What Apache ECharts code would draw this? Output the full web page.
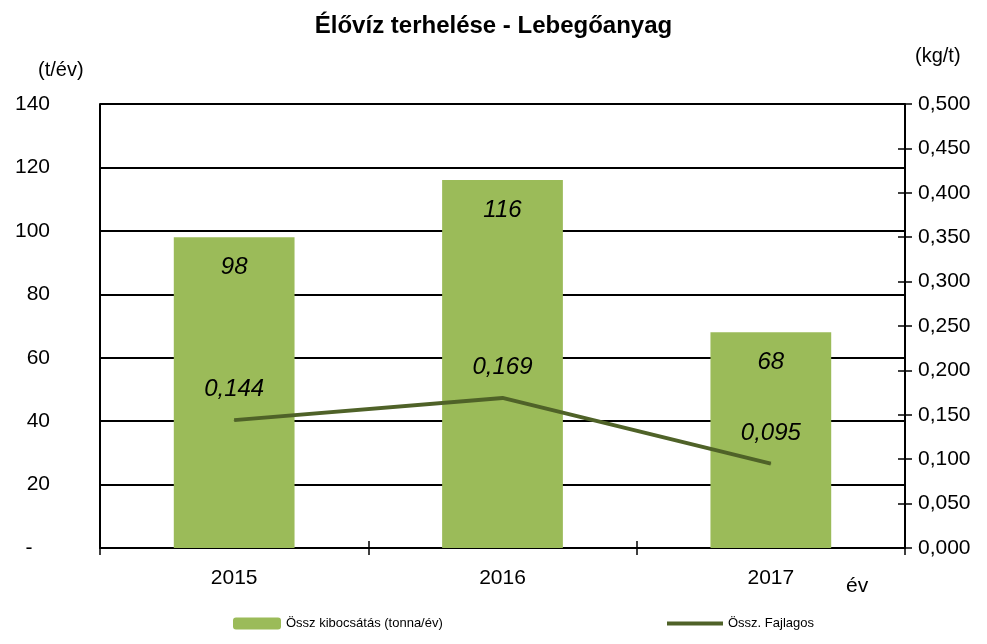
<!DOCTYPE html>
<html>
<head>
<meta charset="utf-8">
<script src="https://cdn.jsdelivr.net/npm/echarts@6/dist/echarts.min.js"></script>
<style>
  html, body {margin: 0; padding: 0; background: #fff;}
  #main {width: 987px; height: 644px;}
</style>
</head>
<body>
<div id="main"></div>
<script>
let years = ['2015', '2016', '2017'];
let kibocsatas = [98, 116, 68];          // t/év
let fajlagos = [0.144, 0.169, 0.095];    // kg/t

let font = '"Liberation Sans", Arial, sans-serif';
let fmt3 = v => v.toFixed(3).replace('.', ',');

let chart = echarts.init(document.getElementById('main'));

chart.setOption({
    animation: false,
    textStyle: {fontFamily: font, color: '#000'},
    title: {
        text: 'Élővíz terhelése - Lebegőanyag',
        left: 'center',
        top: 9,
        textStyle: {fontSize: 24, fontWeight: 'bold', color: '#000', fontFamily: font}
    },
    graphic: [
        {type: 'text', left: 38, top: 60, style: {text: '(t/év)', fontSize: 20, fontFamily: font, fill: '#000'}},
        {type: 'text', left: 915, top: 46, style: {text: '(kg/t)', fontSize: 20, fontFamily: font, fill: '#000'}},
        {type: 'text', left: 846, top: 576, style: {text: 'év', fontSize: 21, fontFamily: font, fill: '#000'}}
    ],
    legend: [
        {
            data: ['Össz kibocsátás (tonna/év)'],
            left: 228, top: 612,
            itemWidth: 48, itemHeight: 12,
            textStyle: {fontSize: 13, fontFamily: font, color: '#000'}
        },
        {
            data: [{name: 'Össz. Fajlagos', icon: 'rect'}],
            left: 662, top: 612,
            itemWidth: 56, itemHeight: 4,
            textStyle: {fontSize: 13, fontFamily: font, color: '#000'}
        }
    ],
    grid: {left: 100, right: 82, top: 104, bottom: 96},
    xAxis: [
        {
            type: 'category',
            data: years,
            axisLine: {lineStyle: {color: '#000', width: 2}},
            axisTick: {show: true, length: 7, lineStyle: {color: '#000', width: 1.5}},
            axisLabel: {fontSize: 21, color: '#000', margin: 20}
        },
        {
            type: 'category',
            data: years,
            position: 'bottom',
            axisLine: {show: false},
            axisTick: {show: true, inside: true, length: 7, lineStyle: {color: '#000', width: 1.5}},
            axisLabel: {show: false}
        }
    ],
    yAxis: [
        {
            type: 'value',
            min: 0, max: 140, interval: 20,
            axisLine: {show: true, lineStyle: {color: '#000', width: 2}},
            axisTick: {show: false},
            splitLine: {lineStyle: {color: '#000', width: 2}},
            axisLabel: {
                fontSize: 21, color: '#000', margin: 50,
                formatter: v => v === 0 ? '-   ' : String(v)
            }
        },
        {
            type: 'value',
            position: 'right',
            min: 0, max: 0.5, interval: 0.05,
            axisLine: {show: true, lineStyle: {color: '#000', width: 2}},
            axisTick: {show: true, length: 7, lineStyle: {color: '#000', width: 1.5}},
            splitLine: {show: false},
            axisLabel: {fontSize: 21, color: '#000', margin: 13, formatter: fmt3}
        },
        {
            type: 'value',
            position: 'right',
            min: 0, max: 0.5, interval: 0.05,
            axisLine: {show: false},
            axisTick: {show: true, inside: true, length: 7, lineStyle: {color: '#000', width: 1.5}},
            splitLine: {show: false},
            axisLabel: {show: false}
        }
    ],
    series: [
        {
            name: 'Össz kibocsátás (tonna/év)',
            type: 'bar',
            data: kibocsatas,
            barWidth: '45%',
            itemStyle: {color: '#9BBB59'},
            label: {
                show: true,
                position: 'insideTop',
                distance: 18,
                fontSize: 24,
                fontStyle: 'italic',
                color: '#000'
            }
        },
        {
            name: 'Össz. Fajlagos',
            type: 'line',
            yAxisIndex: 1,
            data: fajlagos,
            symbol: 'circle',
            symbolSize: 1,
            lineStyle: {color: '#4F6228', width: 4},
            itemStyle: {color: '#4F6228'},
            label: {
                show: true,
                position: 'top',
                distance: 18,
                fontSize: 24,
                fontStyle: 'italic',
                color: '#000',
                formatter: p => fmt3(p.value)
            }
        }
    ]
});
</script>
</body>
</html>
